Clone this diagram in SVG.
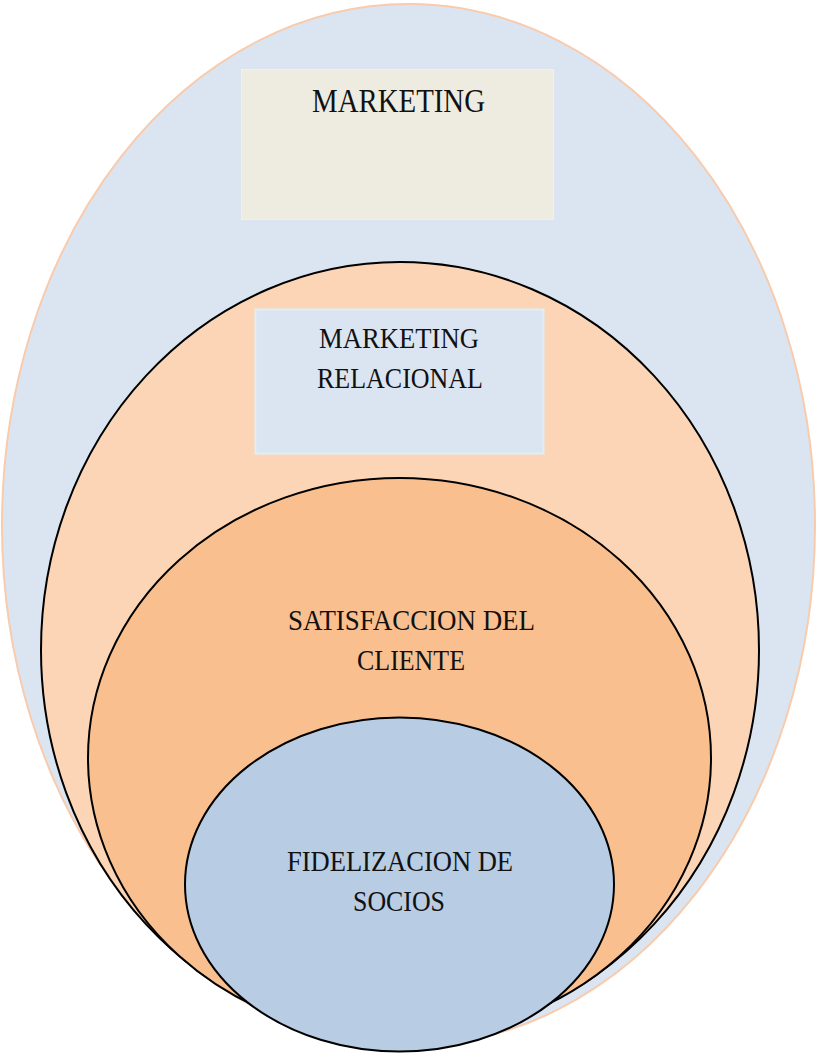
<svg xmlns="http://www.w3.org/2000/svg" width="817" height="1055" viewBox="0 0 817 1055">
<style>
.t{font-family:"Liberation Serif","DejaVu Serif",serif;font-size:30px;fill:#111}
.e{stroke:#000;stroke-width:2}
</style>
<rect width="817" height="1055" fill="#fff"/>
<g id="marketing">
<ellipse cx="408.5" cy="525" rx="406.5" ry="521" fill="#DBE5F1" stroke="#F8CBAD" stroke-width="2"/>
<rect x="241.5" y="69.5" width="312" height="150" fill="#EEECE1" stroke="#F2F0E8" stroke-width="1"/>
<text class="t" x="312" y="112" style="font-size:33px" textLength="173" lengthAdjust="spacingAndGlyphs">MARKETING</text>
</g>
<g id="marketing-relacional">
<ellipse class="e" cx="400" cy="650" rx="359" ry="388" fill="#FBD5B5"/>
<rect x="255.5" y="309.5" width="288" height="144" fill="#DBE5F1" stroke="#DDEFF7" stroke-width="2"/>
<text class="t" x="319" y="348" textLength="160" lengthAdjust="spacingAndGlyphs">MARKETING</text>
<text class="t" x="317" y="388" textLength="166" lengthAdjust="spacingAndGlyphs">RELACIONAL</text>
</g>
<g id="satisfaccion">
<ellipse class="e" cx="399.5" cy="758" rx="311.5" ry="280" fill="#FABF8F"/>
<text class="t" x="288" y="630" textLength="247" lengthAdjust="spacingAndGlyphs">SATISFACCION DEL</text>
<text class="t" x="357" y="670" textLength="108" lengthAdjust="spacingAndGlyphs">CLIENTE</text>
</g>
<g id="fidelizacion">
<ellipse class="e" cx="399.5" cy="884.5" rx="214.5" ry="167" fill="#B8CCE4"/>
<text class="t" x="287" y="871" textLength="226" lengthAdjust="spacingAndGlyphs">FIDELIZACION DE</text>
<text class="t" x="353" y="911" textLength="92" lengthAdjust="spacingAndGlyphs">SOCIOS</text>
</g>
<g id="connectors"/>
</svg>
